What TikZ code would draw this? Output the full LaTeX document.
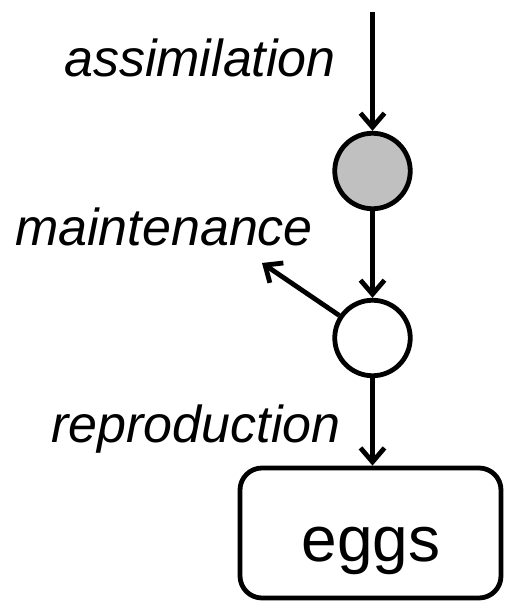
\documentclass[tikz,border=0pt]{standalone}
\usepackage{fontspec}
\setmainfont{Liberation Sans}
\usetikzlibrary{arrows.meta}
\definecolor{poolgray}{RGB}{192,192,192}
\begin{document}
\begin{tikzpicture}[x=1pt,y=-1pt,
  line width=4.8pt,
  arr/.style={-{Straight Barb[length=14pt,width=24pt]}},
  pool/.style={circle,draw,minimum size=75.5pt,inner sep=0pt},
  lbl/.style={font=\fontsize{52}{60}\selectfont\itshape,anchor=base,inner sep=0pt},
]
\useasboundingbox (0,0) rectangle (504,601);
\coordinate (src) at (372.5,12);
\node[pool,fill=poolgray] (res) at (372.5,171) {};
\node[pool] (str) at (372.5,338) {};
\coordinate (mt) at (262,263);
\node[draw,rounded corners=22pt,minimum width=261pt,minimum height=130pt,inner sep=0pt] (box) at (370.5,533) {};
\node[font=\fontsize{64}{70}\selectfont,anchor=base,inner sep=0pt] (eggs) at (371,561) {eggs};
\node[lbl] (la) at (200,77) {assimilation};
\node[lbl] (lm) at (164,246) {maintenance};
\node[lbl] (lr) at (196,442) {reproduction};
\draw[arr] (src) -- (res);
\draw[arr] (res) -- (str);
\draw[arr] (str) -- (mt);
\draw[arr] (str) -- (str |- box.north);
\end{tikzpicture}
\end{document}
